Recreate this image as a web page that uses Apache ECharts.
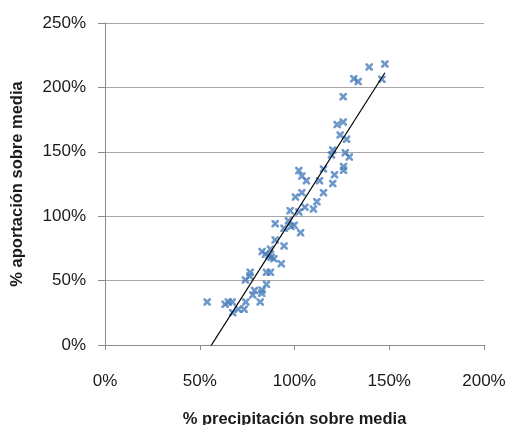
<!DOCTYPE html>
<html>
<head>
<meta charset="utf-8">
<script src="https://cdn.jsdelivr.net/npm/echarts@6/dist/echarts.min.js"></script>
<style>
html, body { margin: 0; padding: 0; background: #fff; }
#chart { width: 510px; height: 425px; }
</style>
</head>
<body>
<div id="chart"></div>
<script>
// % precipitación sobre media (x) y % aportación sobre media (y)
var precip = [53.9, 63.4, 65.1, 67.1, 67.4, 70.4, 73.4, 74.3, 74.1, 76.4, 76.6, 78.0, 78.9,
    81.9, 82.7, 82.9, 82.9, 84.7, 85.2, 85.2, 87.3, 86.4, 87.3, 87.7, 89.1, 89.8, 89.8,
    93.0, 94.5, 94.5, 96.8, 97.7, 98.1, 99.8, 100.5, 102.3, 102.3, 103.2, 103.9, 103.9,
    105.5, 106.3, 110.0, 111.8, 113.2, 115.3, 115.3, 119.5, 120.2, 120.2, 121.1, 122.5,
    124.1, 125.7, 125.7, 125.9, 125.9, 126.8, 127.5, 128.9, 131.3, 133.6, 139.4, 146.1, 147.7];
var aport = [33.4, 31.6, 33.4, 33.4, 25.1, 27.7, 27.7, 33.4, 50.5, 53.6, 56.4, 38.8, 42.4,
    33.4, 40.1, 42.7, 72.5, 70.4, 47.1, 56.4, 56.4, 69.1, 74.3, 68.1, 67.0, 81.5, 94.2,
    63.1, 76.9, 90.6, 96.5, 104.3, 92.1, 92.9, 114.9, 135.4, 103.3, 87.2, 131.2, 118.3,
    106.9, 127.6, 105.6, 111.3, 127.6, 136.6, 118.3, 147.5, 151.4, 125.3, 132.2, 171.1,
    163.0, 173.1, 192.8, 138.5, 135.6, 149.3, 159.7, 146.0, 206.8, 204.5, 215.8, 206.3, 218.2];
// línea de tendencia (extremos)
var trendX = [53.9, 147.7];
var trendY = [-5.3, 211.4];

var points = precip.map(function (x, i) { return [x, aport[i]]; });
var trend = trendX.map(function (x, i) { return [x, trendY[i]]; });

var xMark = 'path://M0,0L2.6,0L5,2.6L7.4,0L10,0L10,2.6L7.4,5L10,7.4L10,10L7.4,10L5,7.4L2.6,10L0,10L0,7.4L2.6,5L0,2.6Z';
var font = 'Liberation Sans';

var myChart = echarts.init(document.getElementById('chart'));
var option = {
    animation: false,
    grid: { left: 105, right: 26, top: 23, bottom: 80, outerBoundsMode: 'none' },
    xAxis: {
        type: 'value',
        min: 0, max: 200, interval: 50,
        name: '% precipitación sobre media',
        nameLocation: 'middle',
        nameGap: 66,
        nameTextStyle: { fontFamily: font, fontSize: 16.5, fontWeight: 'bold', color: '#1a1a1a' },
        axisLine: { show: true, lineStyle: { color: '#8c8c8c', width: 1 } },
        axisTick: { show: true, inside: false, length: 5, lineStyle: { color: '#8c8c8c' } },
        axisLabel: { margin: 28, fontFamily: font, fontSize: 17, color: '#1a1a1a', formatter: '{value}%' },
        splitLine: { show: false }
    },
    yAxis: {
        type: 'value',
        min: 0, max: 250, interval: 50,
        name: '% aportación sobre media',
        nameLocation: 'middle',
        nameGap: 79,
        nameTextStyle: { fontFamily: font, fontSize: 16.5, fontWeight: 'bold', color: '#1a1a1a' },
        axisLine: { show: true, lineStyle: { color: '#8c8c8c', width: 1 } },
        axisTick: { show: true, inside: false, length: 7, lineStyle: { color: '#8c8c8c' } },
        axisLabel: { margin: 19, fontFamily: font, fontSize: 17, color: '#1a1a1a', formatter: '{value}%' },
        splitLine: { show: true, lineStyle: { color: '#a6a6a6', width: 1 } }
    },
    series: [
        {
            type: 'scatter',
            data: points,
            symbol: xMark,
            symbolSize: 7.5,
            itemStyle: { color: '#4a7ebb' }
        },
        {
            type: 'line',
            data: trend,
            symbol: 'none',
            clip: true,
            lineStyle: { color: '#000', width: 1.2 }
        }
    ]
};
myChart.setOption(option);
</script>
</body>
</html>
